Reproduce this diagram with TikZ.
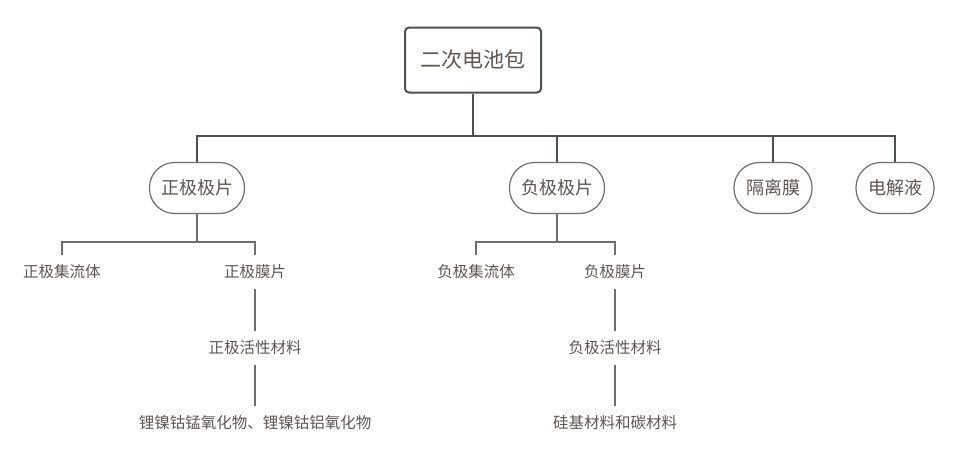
\documentclass[tikz,border=0pt]{standalone}
\usepackage{fontspec}
\newfontfamily\cjk{Noto Sans CJK SC}
\usetikzlibrary{positioning}
\definecolor{txtgray}{HTML}{5E5650}
\definecolor{trunkgray}{HTML}{4B5152}
\definecolor{twiggray}{HTML}{6E6E6E}
\tikzstyle{rootbox} = [draw=trunkgray, line width=2pt, rounded corners=4pt, fill=white, minimum width=136pt, minimum height=65pt, inner sep=0pt, font=\cjk\fontsize{21pt}{21pt}\selectfont, text=txtgray]
\tikzstyle{pill} = [draw=twiggray, line width=1.2pt, rounded corners=25pt, fill=white, minimum width=95pt, minimum height=51pt, inner sep=0pt, font=\cjk\fontsize{18pt}{18pt}\selectfont, text=txtgray]
\tikzstyle{leaf} = [minimum height=34pt, inner sep=0pt, font=\cjk\fontsize{15.5pt}{15.5pt}\selectfont, text=txtgray]
\tikzset{trunk/.style={draw=trunkgray, line width=2.5pt},
    twig/.style={draw=twiggray, line width=1.4pt}}

\begin{document}
\begin{tikzpicture}[x=1pt, y=-1pt]
        \useasboundingbox (0,0) rectangle (964,466);

        \node [rootbox] (pack) at (473,60) {二次电池包};
        \node [pill] (pos) at (197,188) {正极极片};
        \node [pill] (neg) at (557,188) {负极极片};
        \node [pill, minimum width=78pt] (sep) at (773,188) {隔离膜};
        \node [pill, minimum width=78pt] (ele) at (895,188) {电解液};

        \coordinate (bar) at (473,136);
        \draw [trunk] (pack.south) -- (bar);
        \draw [trunk] (pos.north) -- (pos.north |- bar) -- (ele.north |- bar) -- (ele.north);
        \draw [trunk] (neg.north) -- (neg.north |- bar);
        \draw [trunk] (sep.north) -- (sep.north |- bar);

        % positive side
        \node [leaf] (poscc) at (62,272) {正极集流体};
        \node [leaf] (posfilm) at (255,272) {正极膜片};
        \node [leaf] (posact) at (255,348) {正极活性材料};
        \node [leaf] (posmat) at (255,423) {锂镍钴锰氧化物、锂镍钴铝氧化物};

        \coordinate (posbar) at (197,242);
        \draw [twig] (pos.south) -- (posbar);
        \draw [twig] (poscc.north) -- (poscc.north |- posbar) -- (posfilm.north |- posbar) -- (posfilm.north);
        \draw [twig] (posfilm) -- (posact);
        \draw [twig] (posact) -- (posmat);

        % negative side
        \node [leaf] (negcc) at (476,272) {负极集流体};
        \node [leaf] (negfilm) at (615,272) {负极膜片};
        \node [leaf] (negact) at (615,348) {负极活性材料};
        \node [leaf] (negmat) at (615,423) {硅基材料和碳材料};

        \coordinate (negbar) at (557,242);
        \draw [twig] (neg.south) -- (negbar);
        \draw [twig] (negcc.north) -- (negcc.north |- negbar) -- (negfilm.north |- negbar) -- (negfilm.north);
        \draw [twig] (negfilm) -- (negact);
        \draw [twig] (negact) -- (negmat);
\end{tikzpicture}
\end{document}
